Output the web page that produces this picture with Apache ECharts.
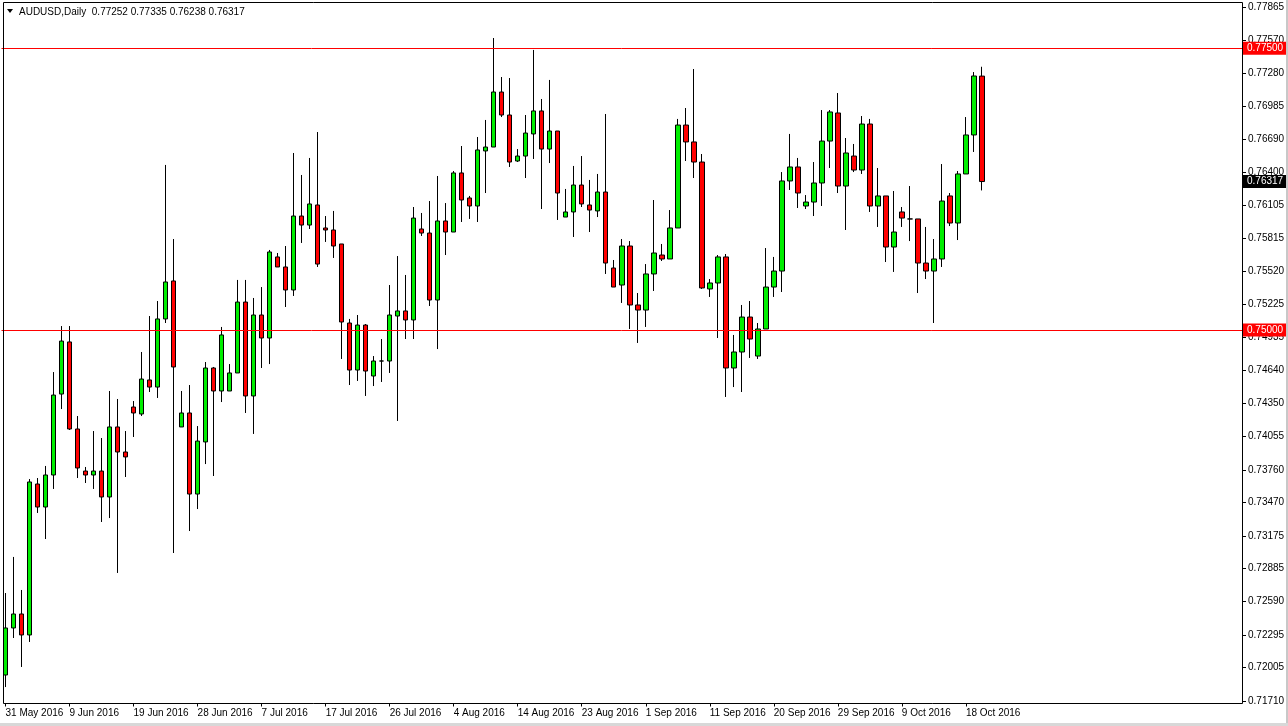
<!DOCTYPE html>
<html><head><meta charset="utf-8">
<script src="https://cdn.jsdelivr.net/npm/echarts@6/dist/echarts.min.js"></script>
<style>html,body{margin:0;padding:0;background:#fff;overflow:hidden}#c{width:1288px;height:726px}</style>
</head><body><div id="c"></div><script>
// ---- data ----
const symbolName = 'AUDUSD,Daily';
const firstDate = '2016-05-31';
const totalSlots = 155; // bars + right-side empty space (MT4 chart shift)
const opens = [0.71940,0.72357,0.72481,0.72295,0.73634,0.73430,0.73714,0.74432,0.74894,0.74122,
0.73749,0.73714,0.73749,0.73519,0.74140,0.73918,0.74317,0.74255,0.74557,0.74494,
0.75098,0.75435,0.74140,0.74264,0.73545,0.74007,0.74663,0.74459,0.74459,0.74619,
0.75248,0.74415,0.75133,0.74929,0.75648,0.75559,0.75355,0.76011,0.75931,0.76109,
0.75905,0.75887,0.75763,0.75062,0.74645,0.75044,0.74592,0.74725,0.74725,0.75124,
0.75169,0.75089,0.75896,0.75860,0.75266,0.75967,0.75869,0.76393,0.76171,0.76100,
0.76588,0.76623,0.77111,0.76907,0.76499,0.76543,0.76739,0.76943,0.76605,0.76765,
0.76002,0.76047,0.76286,0.76109,0.76056,0.76224,0.75550,0.75399,0.75745,0.75222,
0.75177,0.75497,0.75665,0.75630,0.75905,0.76818,0.76668,0.76490,0.75364,0.75417,
0.75648,0.74663,0.74805,0.75115,0.74769,0.75009,0.75381,0.75523,0.76322,0.76446,
0.76100,0.76135,0.76304,0.76676,0.76925,0.76277,0.76543,0.76419,0.76827,0.76100,
0.76189,0.75736,0.76047,0.75985,0.75985,0.75594,0.75523,0.75630,0.76189,0.75949,
0.76384,0.76730,0.77252];
const closes = [0.72357,0.72481,0.72295,0.73652,0.73430,0.73714,0.74423,0.74902,0.74122,0.73776,
0.73714,0.73749,0.73519,0.74140,0.73918,0.73874,0.74264,0.74565,0.74494,0.75098,
0.75426,0.74672,0.74264,0.73545,0.74015,0.74663,0.74459,0.74956,0.74619,0.75248,
0.74415,0.75133,0.74929,0.75692,0.75559,0.75355,0.76011,0.75931,0.76118,0.75585,
0.75887,0.75745,0.75071,0.74645,0.75044,0.74636,0.74725,0.74725,0.75133,0.75169,
0.75089,0.75993,0.75860,0.75266,0.75967,0.75869,0.76393,0.76153,0.76100,0.76597,
0.76623,0.77111,0.76907,0.76490,0.76543,0.76747,0.76943,0.76605,0.76765,0.76215,
0.76047,0.76286,0.76118,0.76064,0.76224,0.75594,0.75381,0.75745,0.75222,0.75177,
0.75497,0.75683,0.75630,0.75905,0.76818,0.76668,0.76490,0.75373,0.75417,0.75648,
0.74663,0.74805,0.75115,0.74920,0.75009,0.75381,0.75523,0.76322,0.76446,0.76215,
0.76135,0.76304,0.76676,0.76934,0.76277,0.76570,0.76419,0.76827,0.76100,0.76189,
0.75736,0.75869,0.75993,0.75985,0.75594,0.75523,0.75630,0.76144,0.75949,0.76384,
0.76730,0.77253,0.76317];
const lows = [0.71833,0.72268,0.72011,0.72233,0.73377,0.73146,0.73590,0.74299,0.74113,0.73687,
0.73643,0.73590,0.73297,0.73332,0.72845,0.73696,0.74051,0.74237,0.74450,0.74397,
0.75062,0.73022,0.74140,0.73217,0.73412,0.73811,0.73705,0.74361,0.74459,0.74619,
0.74264,0.74078,0.74663,0.74698,0.75559,0.75204,0.75302,0.75772,0.75896,0.75559,
0.75781,0.75639,0.74743,0.74512,0.74548,0.74415,0.74503,0.74539,0.74619,0.74193,
0.74920,0.74920,0.75834,0.75213,0.74831,0.75665,0.75869,0.75958,0.75985,0.75958,
0.76215,0.76623,0.76889,0.76446,0.76490,0.76348,0.76517,0.76073,0.76481,0.75976,
0.76002,0.75825,0.76091,0.75869,0.76002,0.75497,0.75381,0.75240,0.75009,0.74885,
0.75027,0.75346,0.75612,0.75630,0.75905,0.76499,0.76348,0.75364,0.75293,0.74929,
0.74406,0.74494,0.74450,0.74752,0.74743,0.75009,0.75293,0.75337,0.76242,0.76082,
0.76073,0.76011,0.76100,0.76437,0.76215,0.75887,0.76401,0.76384,0.76047,0.75914,
0.75603,0.75515,0.75914,0.75789,0.75328,0.75452,0.75062,0.75559,0.75922,0.75798,
0.76384,0.76579,0.76238];
const highs = [0.72667,0.72987,0.72694,0.73678,0.73687,0.73794,0.74627,0.75035,0.75035,0.74237,
0.73785,0.74104,0.74042,0.74459,0.74388,0.74104,0.74370,0.74805,0.75124,0.75257,
0.76464,0.75807,0.74459,0.74512,0.74148,0.74716,0.74672,0.75027,0.74698,0.75444,
0.75444,0.75284,0.75381,0.75710,0.75683,0.75745,0.76570,0.76375,0.76526,0.76756,
0.76011,0.76056,0.75763,0.75098,0.75133,0.75053,0.74769,0.74920,0.75399,0.75656,
0.75488,0.76091,0.76038,0.76144,0.76366,0.76126,0.76410,0.76632,0.76189,0.76712,
0.76863,0.77590,0.77244,0.77235,0.76605,0.76907,0.77484,0.77049,0.77218,0.76765,
0.76251,0.76455,0.76543,0.76331,0.76384,0.76916,0.75621,0.75807,0.75789,0.75328,
0.75585,0.76153,0.75763,0.76064,0.76872,0.76969,0.77315,0.76561,0.75452,0.75665,
0.75674,0.74956,0.75222,0.75257,0.75062,0.75727,0.75648,0.76401,0.76739,0.76526,
0.76197,0.76490,0.76951,0.76951,0.77102,0.76703,0.76650,0.76898,0.76872,0.76437,
0.76189,0.76233,0.76091,0.76277,0.75985,0.75914,0.75807,0.76472,0.76215,0.76410,
0.76889,0.77288,0.77335];
const levelLines = [0.77500, 0.75000];
const yTickLabels = [0.71710,0.72005,0.72295,0.72590,0.72885,0.73175,0.73470,0.73760,0.74055,0.74350,
0.74640,0.74935,0.75225,0.75520,0.75815,0.76105,0.76400,0.76690,0.76985,0.77280,0.77570,0.77865];
const yMin = 0.716871, yMax = 0.779049;

// ---- build ----
const MONTHS = ['Jan','Feb','Mar','Apr','May','Jun','Jul','Aug','Sep','Oct','Nov','Dec'];
function buildDates(start, n) {
  const out = [];
  const d = new Date(start + 'T00:00:00Z');
  while (out.length < n) {
    if (d.getUTCDay() !== 6) out.push(d.getUTCDate() + ' ' + MONTHS[d.getUTCMonth()] + ' ' + d.getUTCFullYear());
    d.setUTCDate(d.getUTCDate() + 1);
  }
  return out;
}
const categories = buildDates(firstDate, totalSlots);
const candles = opens.map((o, i) => [o, closes[i], lows[i], highs[i]]);
const last = opens.length - 1;
const fmt5 = v => Number(v).toFixed(5);
const titleText = symbolName + '  ' + [opens[last], highs[last], lows[last], closes[last]].map(fmt5).join(' ');
const showTick = i => i % 8 === 0 && i <= last;

const FONT = 'Liberation Sans';
const chart = echarts.init(document.getElementById('c'), null, {renderer: 'canvas', devicePixelRatio: 1});
chart.setOption({
  animation: false,
  backgroundColor: '#ffffff',
  title: {text: titleText, left: 19, top: 7, padding: 0, textStyle: {fontSize: 10, fontWeight: 'normal', color: '#000', fontFamily: FONT}},
  grid: {left: 1.5, top: 2.5, width: 1240.5, height: 701, containLabel: false},
  xAxis: {
    type: 'category', data: categories, boundaryGap: true,
    axisLine: {show: false},
    axisTick: {show: true, interval: showTick, alignWithLabel: true, length: 3, lineStyle: {color: '#000'}},
    axisLabel: {interval: showTick, align: 'left', color: '#000', fontSize: 10, fontFamily: FONT, margin: 5},
    splitLine: {show: false}
  },
  yAxis: {
    type: 'value', position: 'right', min: yMin, max: yMax, scale: true,
    axisLine: {show: false},
    axisTick: {show: true, customValues: yTickLabels, length: 4, lineStyle: {color: '#000'}},
    axisLabel: {customValues: yTickLabels, formatter: v => fmt5(v), color: '#000', fontSize: 10, fontFamily: FONT, margin: 6},
    splitLine: {show: false}
  },
  series: [{
    type: 'candlestick',
    data: candles,
    barWidth: 5,
    itemStyle: {color: '#00ee00', color0: '#ff0000', borderColor: '#000', borderColor0: '#000', borderColorDoji: '#000', borderWidth: 1},
    markLine: {
      symbol: 'none', silent: true, animation: false, precision: 5,
      lineStyle: {color: '#ff0000', width: 1, type: 'solid'},
      label: {position: 'end', distance: 1, color: '#fff', backgroundColor: '#ff0000', padding: [2, 4, 1, 4], fontSize: 10, fontFamily: FONT, formatter: p => fmt5(p.value)},
      data: levelLines.map(v => ({yAxis: v})).concat([{yAxis: closes[last], lineStyle: {color: 'rgba(0,0,0,0)', width: 0}, label: {backgroundColor: '#000', color: '#fff'}}])
    }
  }],
  graphic: [
    {type: 'polygon', z: 100, silent: true, shape: {points: [[7, 9], [13, 9], [10, 13]]}, style: {fill: '#000'}},
    {type: 'rect', z: 100, silent: true, shape: {x: 3.5, y: 2.5, width: 1239, height: 701}, style: {fill: 'none', stroke: '#000', lineWidth: 1}},
    {type: 'rect', z: 100, silent: true, shape: {x: 1286, y: 0, width: 2, height: 726}, style: {fill: '#c8c8c8'}},
    {type: 'rect', z: 100, silent: true, shape: {x: 0, y: 723, width: 1288, height: 3}, style: {fill: '#d8d8d8'}}
  ]
});
</script></body></html>
